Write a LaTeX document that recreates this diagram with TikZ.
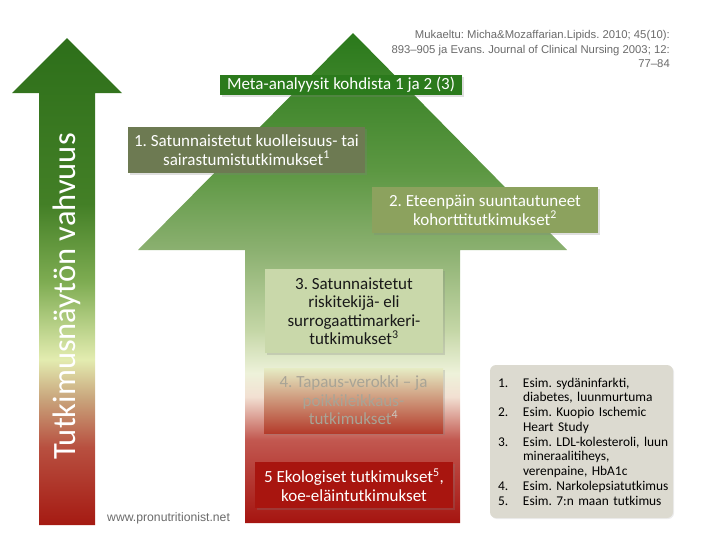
\documentclass[tikz,border=0pt]{standalone}
\usepackage{fontspec}
\setmainfont{Carlito}
\newfontfamily\arialf{Liberation Sans}
\usetikzlibrary{shadows}
\definecolor{lr}{HTML}{A51A12}
\definecolor{lra}{HTML}{B85040}
\definecolor{lrb}{HTML}{C9A57C}
\definecolor{lrc}{HTML}{E3ECB0}
\definecolor{lrd}{HTML}{7EAC52}
\definecolor{lre}{HTML}{437F26}
\definecolor{lrf}{HTML}{2D6F1A}
\definecolor{ba}{HTML}{A51410}
\definecolor{bb}{HTML}{C25850}
\definecolor{bc}{HTML}{F2E0D2}
\definecolor{bd}{HTML}{EEF2DA}
\definecolor{be}{HTML}{C4D6A6}
\definecolor{bf}{HTML}{8BB070}
\definecolor{bg}{HTML}{5C9742}
\definecolor{bh}{HTML}{2A791B}
\definecolor{metafill}{HTML}{2B7A1C}
\definecolor{onefill}{HTML}{6D7A52}
\definecolor{twofill}{HTML}{8CA25E}
\definecolor{threefill}{HTML}{C9D8AA}
\definecolor{fivefill}{HTML}{A8150F}
\definecolor{legfill}{HTML}{DCDAD0}
\definecolor{fourtext}{HTML}{A8A496}
\definecolor{fourtop}{HTML}{E6ECC4}
\definecolor{fourmid}{HTML}{DCC4A4}
\definecolor{fourbot}{HTML}{B43C2C}
\definecolor{citegray}{HTML}{6A6A6A}
\pgfdeclareverticalshading{leftgrad}{100bp}{color(0bp)=(lr); color(25bp)=(lr); color(33bp)=(lra); color(38bp)=(lrb); color(42bp)=(lrc); color(50bp)=(lrd); color(58bp)=(lre); color(75bp)=(lrf); color(100bp)=(lrf)}
\pgfdeclareverticalshading{biggrad}{100bp}{color(0bp)=(ba); color(25bp)=(ba); color(33.5bp)=(bb); color(37.9bp)=(bc); color(40.3bp)=(bd); color(44.7bp)=(be); color(52.9bp)=(bf); color(61bp)=(bg); color(75bp)=(bh); color(100bp)=(bh)}
\tikzset{
  boxbase/.style={draw=none, inner sep=0pt, align=center, font=\fontsize{17}{18.5}\selectfont,
    drop shadow={opacity=0.25, shadow xshift=1.5pt, shadow yshift=-1.5pt}},
  metabox/.style={boxbase, fill=metafill, text=white},
  onebox/.style={boxbase, fill=onefill, text=white},
  twobox/.style={boxbase, fill=twofill, text=white},
  threebox/.style={boxbase, fill=threefill, text=black!90},
  fourbox/.style={boxbase, top color=fourtop, middle color=fourmid, bottom color=fourbot, text=fourtext},
  fivebox/.style={boxbase, fill=fivefill, text=white},
  legbox/.style={fill=legfill, rounded corners=6pt, inner xsep=8pt, inner ysep=0pt, align=left,
    text width=167pt, font=\fontsize{13.4}{14.75}\selectfont,
    drop shadow={opacity=0.15, shadow xshift=1pt, shadow yshift=-1pt}},
  citetext/.style={font=\arialf\fontsize{11.3}{14.5}\selectfont, text=citegray, inner sep=0pt},
  webtext/.style={font=\arialf\fontsize{12.2}{14.5}\selectfont, text=citegray, inner sep=0pt}
}
\newcommand{\legnum}[2]{\mbox{\makebox[25pt][l]{#1}#2}}
\newcommand{\legcont}[1]{\mbox{\hspace*{25pt}#1}}
\begin{document}
\frenchspacing
\begin{tikzpicture}[x=1pt,y=-1pt]
\useasboundingbox (0,0) rectangle (713,547);
% left arrow
\shade[shading=leftgrad] (39,525) -- (39,93) -- (12,93) -- (67,38) -- (122,93) -- (95,93) -- (95,525) -- cycle;
\node[rotate=90, text=white, inner sep=0pt, font=\fontsize{32.5}{36}\selectfont] (axis) at (67,296.5) {Tutkimusnäytön vahvuus};
% big arrow
\shade[shading=biggrad] (245,523) -- (245,250) -- (138,250) -- (353,33) -- (567,250) -- (460,250) -- (460,523) -- cycle;
% boxes
\node[metabox, minimum width=242pt, minimum height=20pt] (meta) at (341,85) {Meta-analyysit kohdista 1 ja 2 (3)};
\node[onebox, minimum width=237pt, minimum height=46pt] (b1) at (246.5,150) {1. Satunnaistetut kuolleisuus- tai\\sairastumistutkimukset\textsuperscript{1}};
\node[twobox, minimum width=226pt, minimum height=46pt] (b2) at (485,210) {2. Eteenpäin suuntautuneet\\kohorttitutkimukset\textsuperscript{2}};
\node[threebox, minimum width=178pt, minimum height=84pt] (b3) at (354,311) {3. Satunnaistetut\\riskitekijä- eli\\surrogaattimarkeri-\\tutkimukset\textsuperscript{3}};
\node[fourbox, minimum width=179pt, minimum height=65pt] (b4) at (353.5,400.5) {4. Tapaus-verokki – ja\\poikkileikkaus-\\tutkimukset\textsuperscript{\textcolor{fourtext!60}{4}}};
\node[fivebox, minimum width=198pt, minimum height=46pt] (b5) at (354,485) {5 Ekologiset tutkimukset\textsuperscript{5},\\koe-eläintutkimukset};
% legend
\node[legbox, minimum height=153pt] (leg) at (581.5,441.5) {%
\legnum{1.}{Esim. sydäninfarkti,}\\
\legcont{diabetes, luunmurtuma}\\
\legnum{2.}{Esim. Kuopio Ischemic}\\
\legcont{Heart Study}\\
\legnum{3.}{Esim. LDL-kolesteroli, luun}\\
\legcont{mineraalitiheys,}\\
\legcont{verenpaine, HbA1c}\\
\legnum{4.}{Esim. Narkolepsiatutkimus}\\
\legnum{5.}{Esim. 7:n maan tutkimus}};
% citation
\node[citetext, align=right, anchor=east] (cite) at (670,49) {Mukaeltu: Micha\&Mozaffarian.Lipids. 2010; 45(10):\\893–905 ja Evans. Journal of Clinical Nursing 2003; 12:\\77–84};
\node[webtext, anchor=west] (web) at (107,518) {www.pronutritionist.net};
\end{tikzpicture}
\end{document}
